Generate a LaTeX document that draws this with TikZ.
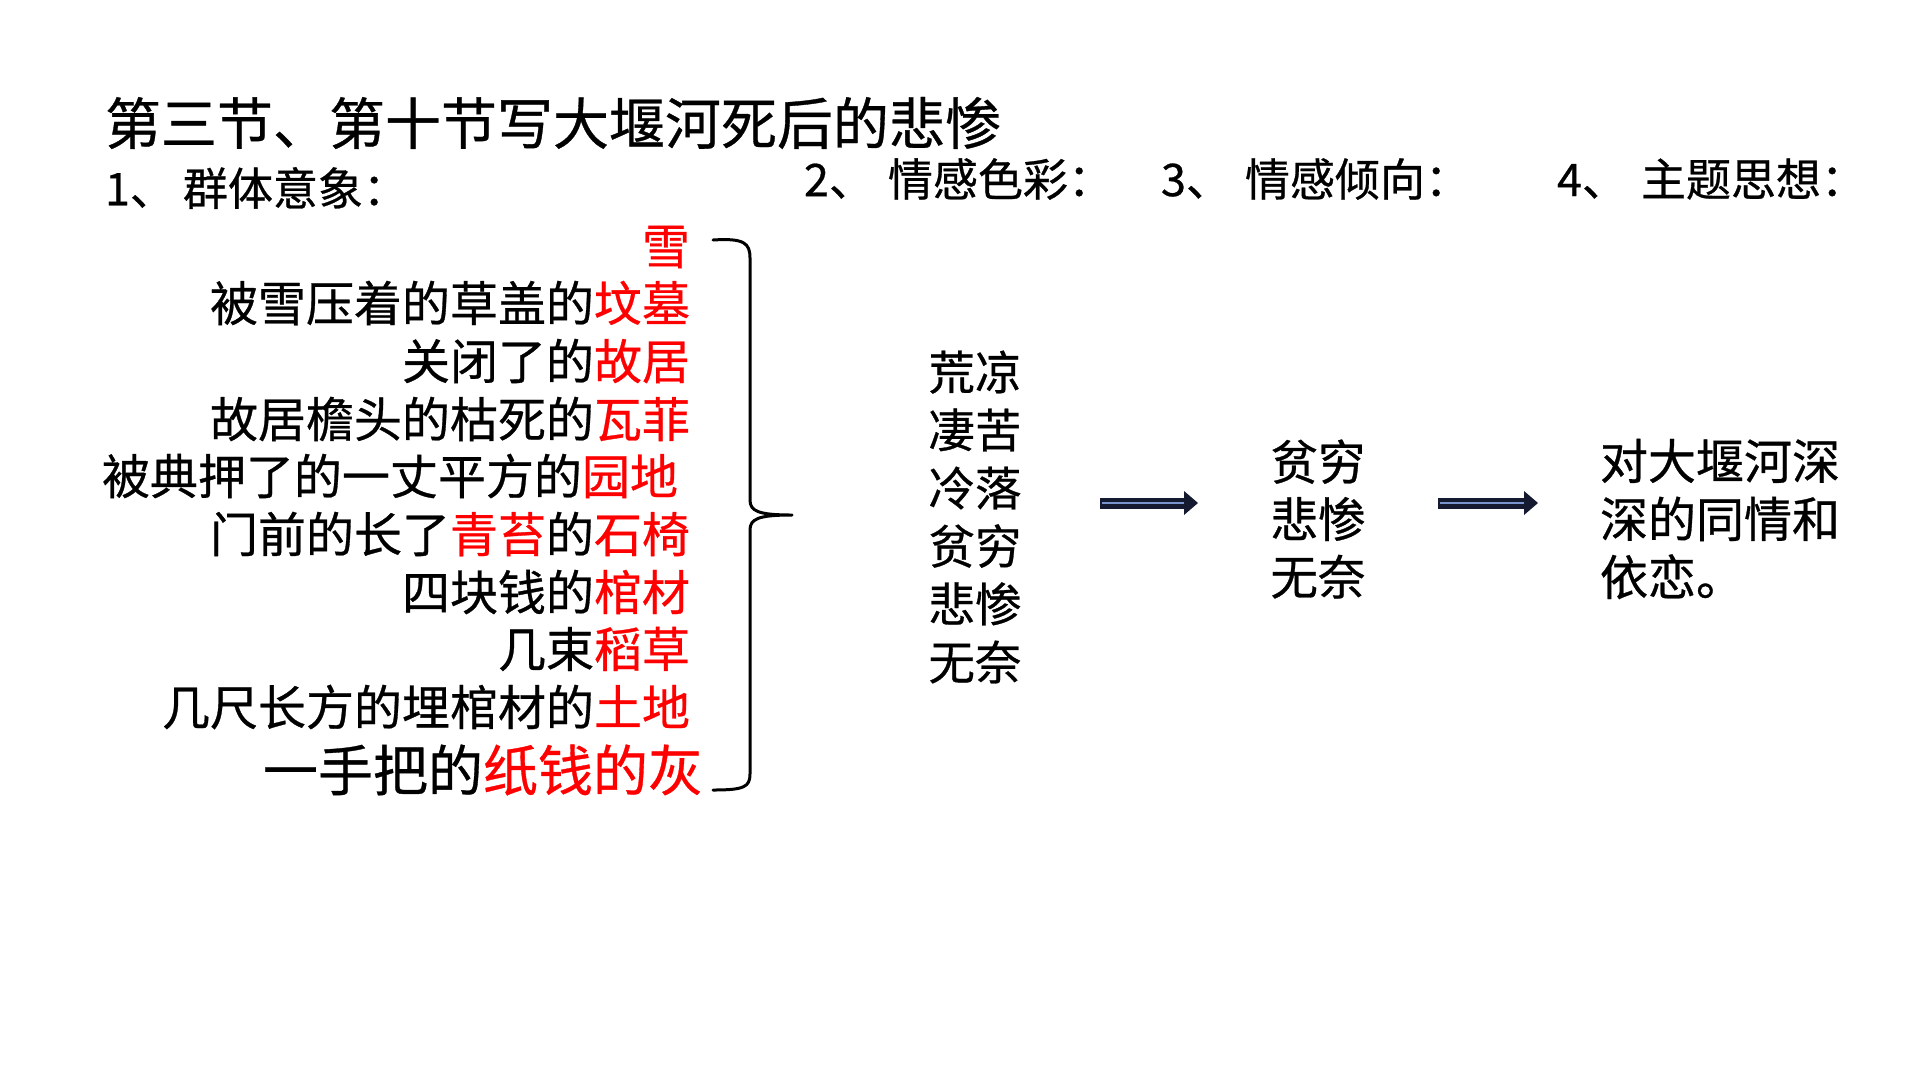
\documentclass[tikz,border=0pt]{standalone}
\usepackage{fontspec}
\newfontfamily\cjk[FakeBold=0.6]{Noto Sans CJK SC}
\definecolor{hl}{RGB}{255,0,0}
\definecolor{arrdark}{RGB}{22,26,48}
\definecolor{arrlight}{RGB}{120,150,205}
\newcommand{\hl}[1]{\textcolor{hl}{#1}}
\newcommand{\gapp}{\hspace{14pt}}
\begin{document}
\begin{tikzpicture}[x=1pt,y=-1pt,
  base/.style={inner sep=0pt, outer sep=0pt, text=black},
  titletxt/.style={base, anchor=west, font=\cjk\fontsize{56}{60}\selectfont},
  headtxt/.style={base, anchor=west, font=\cjk\fontsize{45}{50}\selectfont},
  item/.style={base, anchor=east, font=\cjk\fontsize{48}{52}\selectfont},
  bigitem/.style={base, anchor=east, font=\cjk\fontsize{55}{60}\selectfont},
  col/.style={base, align=left},
  shaftout/.style={draw=arrdark, line width=11pt},
  shaftin/.style={draw=arrlight, line width=2.5pt},
  headtip/.style={fill=arrdark},
  bracestyle/.style={draw=black, line width=3pt, line cap=round, line join=round}]
\fill[white] (0,0) rectangle (1920,1080);
\useasboundingbox (0,0) rectangle (1920,1080);

% titles
\node[titletxt] (title) at (105,123) {第三节、第十节写大堰河死后的悲惨};
\node[headtxt] (h1) at (105,188) {1、\hspace{8pt}群体意象：};
\node[headtxt] (h2) at (804,179) {2、\gapp 情感色彩：};
\node[headtxt] (h3) at (1161,179) {3、\gapp 情感倾向：};
\node[headtxt] (h4) at (1557,179) {4、\gapp 主题思想：};

% image list
\node[item] (i1) at (690,247) {\hl{雪}};
\node[item] (i2) at (690,303) {被雪压着的草盖的\hl{坟墓}};
\node[item] (i3) at (690,361) {关闭了的\hl{故居}};
\node[item] (i4) at (690,419) {故居檐头的枯死的\hl{瓦菲}};
\node[item] (i5) at (678,476) {被典押了的一丈平方的\hl{园地}};
\node[item] (i6) at (690,534) {门前的长了\hl{青苔}的\hl{石椅}};
\node[item] (i7) at (690,592) {四块钱的\hl{棺材}};
\node[item] (i8) at (690,649) {几束\hl{稻草}};
\node[item] (i9) at (690,707) {几尺长方的埋棺材的\hl{土地}};
\node[bigitem] (i10) at (703,770) {一手把的\hl{纸钱的灰}};

% brace
\draw[bracestyle] (713,240) .. controls (744,238) and (750,243) .. (750,258)
  -- (750,500) .. controls (750,511) and (758,515) .. (792,515)
  .. controls (758,515) and (750,519) .. (750,530)
  -- (750,774) .. controls (750,787) and (744,790) .. (713,790);

% columns
\node[col, font=\cjk\fontsize{46.5}{58}\selectfont] (c1) at (975,517)
  {荒凉\\凄苦\\冷落\\贫穷\\悲惨\\无奈};
\node[col, font=\cjk\fontsize{47.5}{57.5}\selectfont] (c2) at (1318,519)
  {贫穷\\悲惨\\无奈};
\node[col, anchor=west, font=\cjk\fontsize{48}{58}\selectfont] (c3) at (1600,519)
  {对大堰河深\\深的同情和\\依恋。};

% arrows
\coordinate (a1s) at (1100,503);
\coordinate (a1e) at (1198,503);
\coordinate (a2s) at (1438,503);
\coordinate (a2e) at (1538,503);
\foreach \s/\e in {a1s/a1e, a2s/a2e}{
  \draw[shaftout] (\s) -- ([xshift=-12pt]\e);
  \draw[shaftin] ([xshift=1.5pt]\s) -- ([xshift=-12pt]\e);
  \fill[headtip] (\e) -- ([xshift=-14pt,yshift=12pt]\e) -- ([xshift=-14pt,yshift=-12pt]\e) -- cycle;
}
\end{tikzpicture}
\end{document}
